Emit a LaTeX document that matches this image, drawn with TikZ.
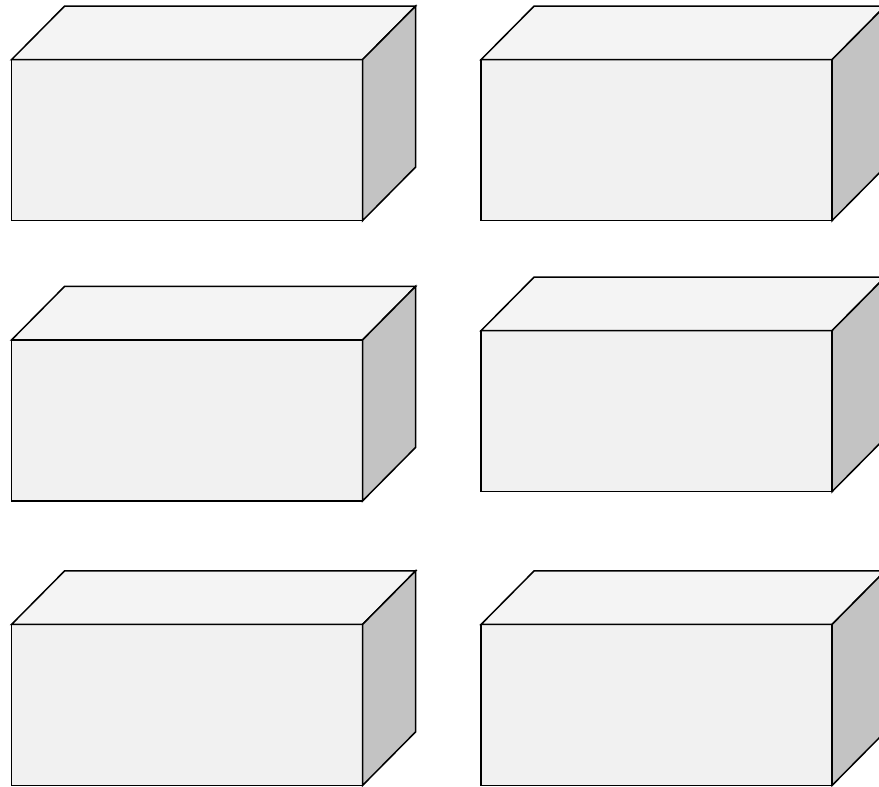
\documentclass[tikz,border=0pt]{standalone}
\definecolor{frontc}{HTML}{F1F1F1}
\definecolor{topc}{HTML}{F4F4F4}
\definecolor{sidec}{HTML}{C3C3C3}
\tikzset{
  facestyle/.style={draw=black, line width=1.5pt, line join=miter},
  pics/cuboid/.style={code={
    \filldraw[facestyle, fill=frontc] (0,0) rectangle (351pt,161pt);
    \filldraw[facestyle, fill=topc] (0,161pt) -- (53pt,214.5pt) -- (404pt,214.5pt) -- (351pt,161pt) -- cycle;
    \filldraw[facestyle, fill=sidec] (351pt,0) -- (404pt,53.5pt) -- (404pt,214.5pt) -- (351pt,161pt) -- cycle;
  }}
}
\begin{document}
\begin{tikzpicture}[x=1pt,y=1pt]
\useasboundingbox (0,0) rectangle (879,787);
\clip (0,0) rectangle (879,787);
\fill[white] (0,0) rectangle (879,787);
\pic at (11.5,566.3) {cuboid};
\pic at (481,566.3) {cuboid};
\pic at (11.5,286) {cuboid};
\pic at (481,295.3) {cuboid};
\pic at (11.5,1.5) {cuboid};
\pic at (481,1.5) {cuboid};
\end{tikzpicture}
\end{document}
